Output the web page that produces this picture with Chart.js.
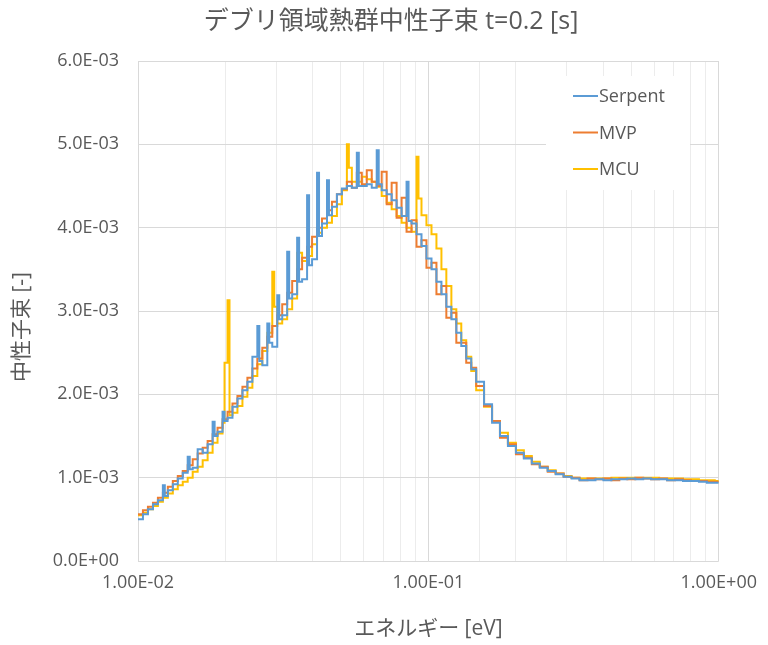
<!DOCTYPE html>
<html>
<head>
<meta charset="utf-8">
<script src="https://cdn.jsdelivr.net/npm/chart.js"></script>
<style>
  body { margin: 0; background: #fff; }
  #wrap { width: 768px; height: 645px; }
</style>
</head>
<body>
<div id="wrap"><canvas id="chart" width="768" height="645"></canvas></div>
<script>
// energy bin starts [eV]
const energy = [
  0.01000, 0.01040, 0.01082, 0.01126, 0.01171, 0.01218, 0.01237, 0.01267, 0.01318, 0.01371, 0.01426,
  0.01483, 0.01507, 0.01543, 0.01605, 0.01670, 0.01737, 0.01807, 0.01836, 0.01879,
  0.01955, 0.01986, 0.02034, 0.02066, 0.02115, 0.02200, 0.02289, 0.02381, 0.02477,
  0.02576, 0.02617, 0.02680, 0.02788, 0.02832, 0.02900, 0.02946, 0.03017, 0.03065, 0.03138,
  0.03264, 0.03316, 0.03396, 0.03532, 0.03588, 0.03674, 0.03822, 0.03883, 0.03976,
  0.04136, 0.04202, 0.04302, 0.04475, 0.04546, 0.04655, 0.04842, 0.05037,
  0.05240, 0.05323, 0.05451, 0.05670, 0.05760, 0.05898, 0.06135, 0.06382, 0.06639, 0.06745,
  0.06906, 0.07184, 0.07473, 0.07773, 0.08086, 0.08411, 0.08545, 0.08750, 0.09101, 0.09246,
  0.09468, 0.09848, 0.1025,
  0.1066, 0.1109, 0.1153, 0.1200, 0.1248, 0.1298, 0.1350, 0.1405, 0.1461,
  0.1555, 0.1657, 0.1764, 0.1879, 0.2002, 0.2132, 0.2271, 0.2419, 0.2576, 0.2744,
  0.2923, 0.3113, 0.3316, 0.3532, 0.3762, 0.4007, 0.4268, 0.4546, 0.4842, 0.5158,
  0.5494, 0.5851, 0.6233, 0.6639, 0.7071, 0.7532, 0.8022, 0.8545, 0.9101, 0.9690, 1.000
];

// flux values, in units of 1E-03
const serpent = [
  0.50, 0.56, 0.62, 0.68, 0.73, 0.91, 0.78, 0.85, 0.92, 0.99, 1.06,
  1.25, 1.10, 1.12, 1.34, 1.30, 1.40, 1.67, 1.50, 1.55,
  1.79, 1.68, 1.72, 1.72, 1.85, 1.95, 2.05, 2.15, 2.45,
  2.82, 2.40, 2.35, 2.85, 2.62, 2.57, 2.57, 3.19, 2.90, 2.95,
  3.71, 3.15, 3.20, 3.88, 3.35, 3.38, 4.39, 3.55, 3.62,
  4.66, 3.90, 4.05, 4.57, 4.15, 4.25, 4.40, 4.47,
  4.50, 4.50, 4.48, 4.90, 4.50, 4.50, 4.52, 4.48, 4.93, 4.52,
  4.45, 4.40, 4.33, 4.24, 4.14, 4.55, 4.08, 4.05, 3.92, 3.92,
  3.78, 3.63, 3.50,
  3.35, 3.20, 3.05, 2.90, 2.74, 2.58, 2.43, 2.30, 2.15,
  1.88, 1.66, 1.50, 1.38, 1.30, 1.23, 1.17, 1.12, 1.08, 1.04,
  1.01, 0.99, 0.97, 0.97, 0.98, 0.97, 0.98, 0.98, 0.99, 0.98,
  0.99, 0.98, 0.98, 0.97, 0.97, 0.96, 0.96, 0.95, 0.94, 0.94, 0.94
];
const mvp = [
  0.56, 0.61, 0.65, 0.70, 0.76, 0.82, 0.82, 0.89, 0.96, 1.02, 1.08,
  1.15, 1.15, 1.22, 1.29, 1.36, 1.44, 1.52, 1.52, 1.60,
  1.70, 1.70, 1.79, 1.79, 1.89, 1.98, 2.09, 2.20, 2.31,
  2.43, 2.43, 2.56, 2.69, 2.69, 2.82, 2.82, 2.95, 2.95, 3.08,
  3.22, 3.22, 3.36, 3.50, 3.50, 3.64, 3.77, 3.77, 3.89,
  4.00, 4.00, 4.11, 4.21, 4.21, 4.31, 4.40, 4.46,
  4.55, 4.55, 4.48, 4.66, 4.66, 4.52, 4.69, 4.55, 4.50, 4.50,
  4.67, 4.28, 4.54, 4.12, 4.36, 3.95, 3.95, 4.09, 3.77, 3.77,
  3.85, 3.52, 3.58,
  3.20, 3.30, 2.92, 2.98, 2.62, 2.62, 2.38, 2.32, 2.10,
  1.86, 1.68, 1.48, 1.40, 1.28, 1.24, 1.16, 1.13, 1.07, 1.05,
  1.01, 1.00, 0.97, 0.99, 0.98, 0.99, 0.97, 0.99, 0.98, 1.00,
  0.99, 0.98, 0.99, 0.97, 0.98, 0.97, 0.96, 0.96, 0.95, 0.95, 0.95
];
const mcu = [
  0.55, 0.58, 0.62, 0.66, 0.71, 0.76, 0.76, 0.81, 0.86, 0.91, 0.95,
  1.00, 1.00, 1.07, 1.13, 1.21, 1.30, 1.42, 1.42, 1.53,
  1.66, 2.38, 3.13, 1.75, 1.78, 1.86, 1.97, 2.08, 2.22,
  2.36, 2.36, 2.52, 2.74, 2.74, 3.47, 3.05, 2.85, 2.85, 2.90,
  3.02, 3.02, 3.15, 3.70, 3.70, 3.60, 3.66, 3.66, 3.80,
  3.94, 3.94, 4.00, 4.06, 4.06, 4.14, 4.28, 4.45,
  5.00, 4.72, 4.55, 4.55, 4.55, 4.61, 4.58, 4.55, 4.49, 4.49,
  4.38, 4.30, 4.22, 4.14, 4.06, 4.00, 4.00, 3.95, 4.85, 4.35,
  4.15, 4.03, 3.92,
  3.75, 3.50, 3.30, 3.02, 2.85, 2.65, 2.45, 2.28, 2.05,
  1.85, 1.68, 1.54, 1.42, 1.33, 1.26, 1.19, 1.13, 1.09, 1.05,
  1.02, 1.00, 0.99, 0.99, 0.99, 0.99, 1.00, 1.00, 1.00, 1.00,
  1.00, 1.00, 0.99, 0.99, 0.99, 0.98, 0.98, 0.97, 0.97, 0.96, 0.96
];

const seriesNames = ['Serpent', 'MVP', 'MCU'];
const seriesColors = ['#5B9BD5', '#ED7D31', '#FFC000'];
const chartTitle = 'デブリ領域熱群中性子束 t=0.2 [s]';
const yTitle = '中性子束 [-]';
const xTitle = 'エネルギー [eV]';

const FONT = '"Open Sans", "Noto Sans CJK JP", sans-serif';
const TEXT = '#595959';

function toPoints(vals) {
  return energy.map((e, i) => ({ x: e, y: vals[i] * 1e-3 }));
}

function sci(v, digits) {
  return v.toExponential(digits).replace(/e([+-])(\d+)$/, (m, s, d) => 'E' + s + d.padStart(2, '0'));
}

function isDecade(v) {
  const l = Math.log10(v);
  return Math.abs(l - Math.round(l)) < 1e-6;
}

// title, y-axis title and boxed legend in the upper right of the plot
const decorations = {
  id: 'decorations',
  afterDraw(chart) {
    const ctx = chart.ctx;
    ctx.save();
    ctx.fillStyle = TEXT;
    ctx.font = '25px ' + FONT;
    ctx.textAlign = 'center';
    ctx.textBaseline = 'middle';
    ctx.fillText(chartTitle, 391, 22);

    ctx.save();
    ctx.translate(22, 327);
    ctx.rotate(-Math.PI / 2);
    ctx.font = '21px ' + FONT;
    ctx.fillText(yTitle, 0, 0);
    ctx.restore();

    ctx.fillStyle = '#ffffff';
    ctx.fillRect(546, 76, 144, 114);
    ctx.font = '18px ' + FONT;
    ctx.textAlign = 'left';
    chart.data.datasets.forEach((ds, i) => {
      const y = 96 + i * 36.5;
      ctx.strokeStyle = ds.borderColor;
      ctx.lineWidth = 2;
      ctx.beginPath();
      ctx.moveTo(573, y);
      ctx.lineTo(598, y);
      ctx.stroke();
      ctx.fillStyle = TEXT;
      ctx.fillText(ds.label, 599, y + 1);
    });
    ctx.restore();
  }
};

new Chart(document.getElementById('chart'), {
  type: 'line',
  data: {
    datasets: [serpent, mvp, mcu].map((vals, i) => ({
      label: seriesNames[i],
      data: toPoints(vals),
      borderColor: seriesColors[i],
      backgroundColor: seriesColors[i],
      borderWidth: 2,
      pointRadius: 0,
      stepped: true,
      fill: false
    }))
  },
  plugins: [decorations],
  options: {
    responsive: false,
    animation: false,
    layout: { padding: { left: 0, right: 46, top: 61, bottom: 0 } },
    plugins: {
      legend: { display: false },
      tooltip: { enabled: false },
      title: { display: false }
    },
    scales: {
      x: {
        type: 'logarithmic',
        min: 0.01,
        max: 1,
        afterFit: s => { s.height = 84; },
        border: { display: false },
        grid: {
          drawTicks: false,
          color: c => isDecade(c.tick.value) ? '#d9d9d9' : '#ececec'
        },
        ticks: {
          autoSkip: false,
          maxRotation: 0,
          padding: 11,
          color: TEXT,
          font: { family: FONT, size: 18 },
          callback: v => isDecade(v) ? sci(v, 2) : ''
        },
        title: {
          display: true,
          text: xTitle,
          color: TEXT,
          font: { family: FONT, size: 21 },
          padding: { bottom: 3 }
        }
      },
      y: {
        min: 0,
        max: 0.006,
        afterFit: s => { s.width = 138; },
        border: { display: true, color: '#d9d9d9' },
        grid: { drawTicks: false, color: '#d9d9d9' },
        ticks: {
          stepSize: 0.001,
          padding: 19,
          color: TEXT,
          font: { family: FONT, size: 18 },
          callback: v => sci(v, 1)
        }
      }
    }
  }
});
</script>
</body>
</html>
